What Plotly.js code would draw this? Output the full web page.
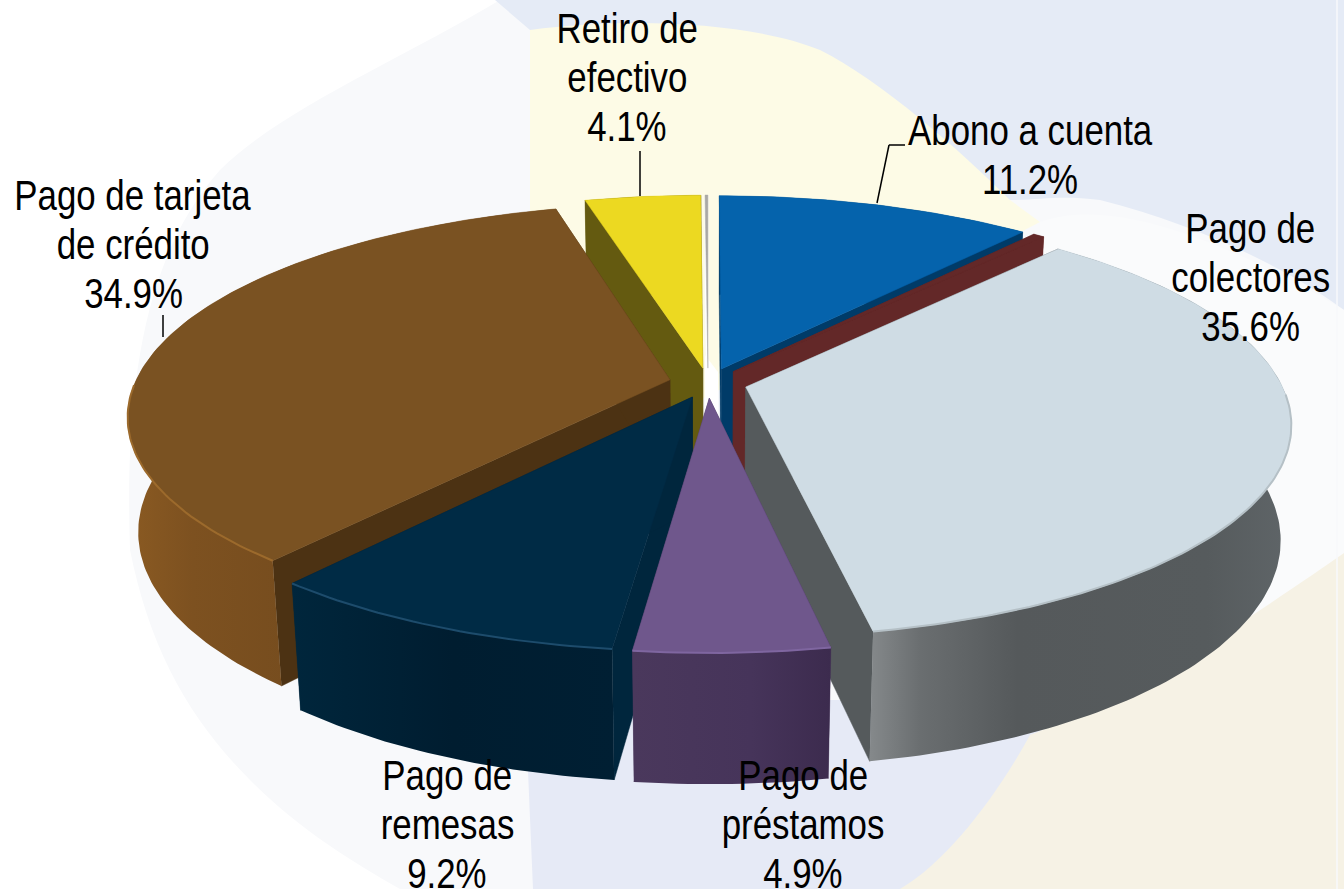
<!DOCTYPE html>
<html><head><meta charset="utf-8">
<script src="https://cdn.plot.ly/plotly-3.0.1.min.js"></script>
<style>html,body{margin:0;padding:0;background:#fff}#c{width:1344px;height:889px}</style>
</head><body><div id="c"></div>
<script>
// data, clockwise from 12 o'clock
const categories = ["Abono a cuenta","Sin rótulo 1","Pago de colectores","Pago de préstamos","Pago de remesas","Pago de tarjeta de crédito","Retiro de efectivo","Sin rótulo 2"];
const values = [11.2,0.4,35.6,4.9,9.2,34.9,4.1,0.1];
const labelLines = [["Abono a cuenta"],null,["Pago de","colectores"],["Pago de","préstamos"],["Pago de","remesas"],["Pago de tarjeta","de crédito"],["Retiro de","efectivo"],null];

// styles
const topColors = ["#0563ac","#632828","#cfdce4","#6f578c","#002b45","#7a5222","#ecd921","#a9a8a4"];
const cutColors = ["#003b68","#632828","#555a5c","#48365a","#00263d","#4c3213","#645a10","#ffffff"];
const rimColors = ["#0563ac","#632828","#b5c0c6","#7f66a0","#1d4c6c","#9c6a2c","#ecd921","#ffffff"];
const wallScales = [
 [[0,"#003b68"],[1,"#003b68"]],
 [[0,"#632828"],[1,"#632828"]],
 [[0,"#85898b"],[0.12,"#6a6e70"],[0.35,"#55595b"],[0.8,"#565b5d"],[1,"#5f6568"]],
 [[0,"#4a385c"],[0.6,"#46345a"],[1,"#3c2b4e"]],
 [[0,"#00263c"],[0.5,"#001d30"],[1,"#001f33"]],
 [[0,"#8a5a22"],[0.15,"#7d5120"],[0.7,"#6d471c"],[1,"#6a451b"]],
 [[0,"#645a10"],[1,"#645a10"]],
 [[0,"#ffffff"],[1,"#ffffff"]]
];
const labelX = [1030,0,1250,803,447,133,627,0];
const labelY = [130,0,228,775,775,195,28,0];
const linePitch = 49;
const NARROW = 0.83;

// projection of the tilted disc
const cx=708, cy=383, R=535, B=206.5, K=0.167, M=0.018, H=115, PULL=0.073;
function proj(X,Y,Z){const s=1/(1+K*Y+M*Z);return [cx+R*X*s, cy-B*Y*s+H*Z*s];}
const total=values.reduce((a,b)=>a+b,0);
const traces=[];
function poly(pts,color,grad){
  const t={type:"scatter",mode:"lines",x:pts.map(p=>p[0]),y:pts.map(p=>p[1]),fill:"toself",
    line:{width:0.5,color:color||"rgba(0,0,0,0)"},hoverinfo:"skip",showlegend:false};
  if(grad){t.fillgradient={type:"horizontal",colorscale:grad};t.line.width=0;}
  else t.fillcolor=color;
  traces.push(t);
}
let cum=0;
const wedges=values.map((v,i)=>{
  const a0=cum/total*2*Math.PI; cum+=v; const a1=cum/total*2*Math.PI; const am=(a0+a1)/2;
  return {i,a0,a1,am,ox:PULL*Math.sin(am),oy:PULL*Math.cos(am)};
});
wedges.sort((p,q)=>q.oy-p.oy);
wedges.forEach(w=>{
  const n=Math.max(8,Math.round((w.a1-w.a0)*60));
  const angle=j=>w.a0+(w.a1-w.a0)*j/n;
  const arc=Z=>{const o=[];for(let j=0;j<=n;j++){const a=angle(j);o.push(proj(w.ox+Math.sin(a),w.oy+Math.cos(a),Z));}return o;};
  const ap=Z=>proj(w.ox,w.oy,Z);
  const t=arc(0),b=arc(1);
  poly([ap(0),t[0],b[0],ap(1),ap(0)],cutColors[w.i]);
  poly([ap(0),t[n],b[n],ap(1),ap(0)],cutColors[w.i]);
  poly(t.concat(b.slice().reverse()).concat([t[0]]),null,wallScales[w.i]);
  poly([ap(0)].concat(t).concat([ap(0)]),topColors[w.i]);
  const rim=t.filter((p,j)=>Math.cos(angle(j))<-0.02);
  if(rim.length>1)traces.push({type:"scatter",mode:"lines",x:rim.map(p=>p[0]),y:rim.map(p=>p[1]),line:{width:2,color:rimColors[w.i]},hoverinfo:"skip",showlegend:false});
});

// labels
const annotations=[];
values.forEach((v,i)=>{
  if(!labelLines[i])return;
  labelLines[i].concat([v.toFixed(1)+"%"]).forEach((txt,j)=>{
    annotations.push({xref:"x",yref:"y",x:labelX[i],y:labelY[i]+j*linePitch,text:txt,showarrow:false,
      xanchor:"center",yanchor:"middle",font:{family:"'Liberation Sans',Arial,sans-serif",size:42,color:"#000"}});
  });
});

const line=(x0,y0,x1,y1,c,w)=>({type:"line",x0,y0,x1,y1,xref:"x",yref:"y",layer:"above",line:{color:c||"#000",width:w||1.5}});
const bg=(path,color)=>({type:"path",path,xref:"x",yref:"y",layer:"below",fillcolor:color,line:{width:0}});
const shapes=[
 bg("M500,0C400,60 280,110 220,170C140,260 125,400 130,550C150,650 190,720 250,780C300,830 350,860 400,889H1344V0Z","#f8f9fb"),
 bg("M495,0H1344V310C1290,270 1200,225 1100,200C1060,195 1040,200 1010,200L530,30Z","#e5ebf6"),
 bg("M530,200V30C640,15 760,25 820,50C880,80 960,150 1010,200L1040,222L700,400L530,400Z","#fdfbe6"),
 bg("M525,700L533,889H1344V700Z","#e6eaf6"),
 bg("M1040,222C1100,200 1200,225 1344,310V600L1040,735Z","#fafbfc"),
 bg("M1344,553C1290,590 1150,690 1030,735C1000,790 950,860 900,889H1344Z","#f6f2e5"),
 bg("M705,355L718,372V430H705Z","#ffffff"),
 line(1337,0,1337,889,"#f7f8fb",1.5),
 line(640,151,640,196),
 line(877,203,889,145),
 line(889,145,905,145),
 line(163,315,163,337)
];

Plotly.newPlot("c",traces,{
  width:1344,height:889,margin:{l:0,r:0,t:0,b:0},paper_bgcolor:"#fff",plot_bgcolor:"rgba(0,0,0,0)",showlegend:false,
  xaxis:{range:[0,1344],visible:false,fixedrange:true},
  yaxis:{range:[889,0],visible:false,fixedrange:true},
  shapes,annotations
},{displayModeBar:false,staticPlot:true}).then(gd=>{
  // the labels use a condensed setting of the type, scaled about each text's centre
  gd.querySelectorAll(".annotation-text").forEach(el=>{
    const b=el.getBBox(), c=b.x+b.width/2;
    el.setAttribute("transform",`translate(${c},0) scale(${NARROW},1) translate(${-c},0)`);
  });
});
</script></body></html>
